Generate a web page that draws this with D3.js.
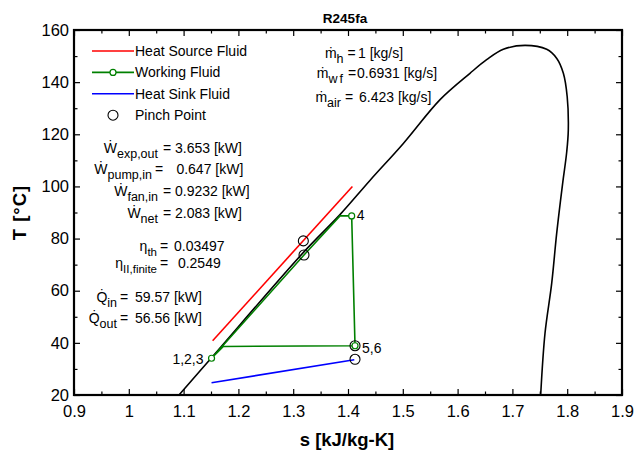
<!DOCTYPE html>
<html>
<head>
<meta charset="utf-8">
<script src="https://cdn.jsdelivr.net/npm/d3@7"></script>
<style>
body { margin: 0; background: #fff; }
text { font-family: Arial, "Liberation Sans", sans-serif; fill: #000; }
</style>
</head>
<body>
<div id="chart"></div>
<script>
// axis ticks
var xTicks = [0.9, 1, 1.1, 1.2, 1.3, 1.4, 1.5, 1.6, 1.7, 1.8, 1.9];
var yTicks = [20, 40, 60, 80, 100, 120, 140, 160];
var xMinor = [0.95, 1.05, 1.15, 1.25, 1.35, 1.45, 1.55, 1.65, 1.75, 1.85];
var yMinor = [30, 50, 70, 90, 110, 130, 150];

// saturation dome of R245fa
var domeS = [1.0916, 1.151, 1.32, 1.3854, 1.44, 1.501, 1.568, 1.6226, 1.653, 1.6834, 1.723, 1.7626, 1.781, 1.793, 1.800, 1.802, 1.799, 1.7917, 1.7808, 1.7717, 1.7595, 1.7516];
var domeT = [20, 34.3, 75, 89.2, 102.3, 116.5, 133.3, 143.4, 148.6, 152.6, 154.1, 152.6, 149.1, 143.4, 134.4, 121.6, 113, 101.2, 82, 62.8, 43.7, 20];

// heat source / working fluid / heat sink
var sourceS = [1.153, 1.408];
var sourceT = [40.8, 100];
var cycleS = [1.151, 1.3197, 1.3854, 1.4067, 1.4128, 1.1725, 1.151];
var cycleT = [34.1, 73.7, 88.7, 88.7, 38.9, 38.6, 34.1];
var sinkS = [1.151, 1.4115];
var sinkT = [24.7, 33.5];

// state markers on the working fluid
var stateNames = ["1,2,3", "4", "5,6"];
var stateS = [1.151, 1.4067, 1.4128];
var stateT = [34.1, 88.7, 38.9];

// pinch points
var pinchS = [1.3185, 1.3197, 1.4128, 1.4128];
var pinchT = [79.1, 73.7, 38.9, 33.7];

var legendNames = ["Heat Source Fluid", "Working Fluid", "Heat Sink Fluid", "Pinch Point"];

// results text
var workSym = ["Ẇ", "Ẇ", "Ẇ", "Ẇ"];
var workSub = ["exp,out", "pump,in", "fan,in", "net"];
var workVal = ["3.653 [kW]", " 0.647 [kW]", "0.9232 [kW]", "2.083 [kW]"];
var etaSym = ["η", "η"];
var etaSub = ["th", "II,finite"];
var etaVal = ["0.03497", " 0.2549"];
var heatSym = ["Q̇", "Q̇"];
var heatSub = ["in", "out"];
var heatVal = ["59.57 [kW]", "56.56 [kW]"];
var massSym = ["ṁ", "ṁ", "ṁ"];
var massSub = ["h", "wf", "air"];
var massVal = ["1 [kg/s]", "0.6931 [kg/s]", "6.423 [kg/s]"];

var width = 637, height = 453,
margin = {top: 30, right: 15, bottom: 58, left: 74},
plotW = width - margin.left - margin.right,
plotH = height - margin.top - margin.bottom;

var x = d3.scaleLinear().domain([0.9, 1.9]).range([0, plotW]);
var y = d3.scaleLinear().domain([20, 160]).range([plotH, 0]);

var svg = d3.select("#chart").append("svg")
.attr("width", width)
.attr("height", height);

var clip = svg.append("defs").append("clipPath").attr("id", "clip");
clip.append("rect").attr("width", plotW).attr("height", plotH);

var g = svg.append("g").attr("transform", "translate(" + margin.left + "," + margin.top + ")");

// axes, ticks pointing inward on all four sides
var fmt = function(d){ return String(d); };
g.append("g").attr("transform", "translate(0," + plotH + ")")
.call(d3.axisBottom(x).tickValues(xTicks).tickSize(-6).tickPadding(10.5).tickFormat(fmt));
g.append("g").attr("transform", "translate(0," + plotH + ")")
.call(d3.axisBottom(x).tickValues(xMinor).tickSize(-3.5).tickFormat(""));
g.append("g")
.call(d3.axisTop(x).tickValues(xTicks).tickSize(-6).tickFormat(""));
g.append("g")
.call(d3.axisTop(x).tickValues(xMinor).tickSize(-3.5).tickFormat(""));
g.append("g")
.call(d3.axisLeft(y).tickValues(yTicks).tickSize(-6).tickPadding(5).tickFormat(fmt));
g.append("g")
.call(d3.axisLeft(y).tickValues(yMinor).tickSize(-3.5).tickFormat(""));
g.append("g").attr("transform", "translate(" + plotW + ",0)")
.call(d3.axisRight(y).tickValues(yTicks).tickSize(-6).tickFormat(""));
g.append("g").attr("transform", "translate(" + plotW + ",0)")
.call(d3.axisRight(y).tickValues(yMinor).tickSize(-3.5).tickFormat(""));

g.selectAll(".domain").remove();
g.selectAll(".tick line").attr("stroke", "#000").attr("stroke-width", 1.2);
g.selectAll(".tick text").style("font-size", "16.5px").style("font-family", "Arial, 'Liberation Sans', sans-serif");

g.append("rect")
.attr("width", plotW)
.attr("height", plotH)
.attr("fill", "none")
.attr("stroke", "#000")
.attr("stroke-width", 2.2);

// data lines
var line = d3.line()
.x(function(d){ return x(d[0]); })
.y(function(d){ return y(d[1]); });

var plot = g.append("g").attr("clip-path", "url(#clip)");

plot.append("path")
.datum(d3.zip(domeS, domeT))
.attr("d", line.curve(d3.curveCatmullRom.alpha(0.5)))
.attr("fill", "none")
.attr("stroke", "#000")
.attr("stroke-width", 1.6);

line.curve(d3.curveLinear);

plot.append("path")
.datum(d3.zip(sourceS, sourceT))
.attr("d", line)
.attr("fill", "none")
.attr("stroke", "#ff0000")
.attr("stroke-width", 1.6);

plot.append("path")
.datum(d3.zip(sinkS, sinkT))
.attr("d", line)
.attr("fill", "none")
.attr("stroke", "#0000ff")
.attr("stroke-width", 1.6);

plot.append("path")
.datum(d3.zip(cycleS, cycleT))
.attr("d", line)
.attr("fill", "none")
.attr("stroke", "#008000")
.attr("stroke-width", 1.6);

// pinch circles
plot.selectAll(".pinch")
.data(d3.zip(pinchS, pinchT))
.enter()
.append("circle")
.attr("class", "pinch")
.attr("cx", function(d){ return x(d[0]); })
.attr("cy", function(d){ return y(d[1]); })
.attr("r", 5)
.attr("fill", "none")
.attr("stroke", "#000")
.attr("stroke-width", 1.1);

// state markers
plot.selectAll(".state")
.data(d3.zip(stateS, stateT))
.enter()
.append("circle")
.attr("class", "state")
.attr("cx", function(d){ return x(d[0]); })
.attr("cy", function(d){ return y(d[1]); })
.attr("r", 3)
.attr("fill", "#fff")
.attr("stroke", "#008000")
.attr("stroke-width", 1.2);

var labelOffset = [[-8, 6, "end"], [5, 4.5, "start"], [7, 7, "start"]];
g.selectAll(".state-label")
.data(stateNames)
.enter()
.append("text")
.attr("class", "state-label")
.attr("x", function(d, i){ return x(stateS[i]) + labelOffset[i][0]; })
.attr("y", function(d, i){ return y(stateT[i]) + labelOffset[i][1]; })
.attr("text-anchor", function(d, i){ return labelOffset[i][2]; })
.style("font-size", "14px")
.text(function(d){ return d; });

// legend
var legend = svg.append("g").attr("class", "legend");
var legendColors = ["#ff0000", "#008000", "#0000ff", null];
legendNames.forEach(function(name, i) {
  var ly = 51 + i * 21.4;
  if (legendColors[i]) {
    legend.append("line")
    .attr("x1", 92).attr("x2", 134)
    .attr("y1", ly).attr("y2", ly)
    .attr("stroke", legendColors[i])
    .attr("stroke-width", 1.6);
  }
  if (i === 1) {
    legend.append("circle").attr("cx", 113).attr("cy", ly).attr("r", 3)
    .attr("fill", "#fff").attr("stroke", "#008000").attr("stroke-width", 1.2);
  }
  if (i === 3) {
    legend.append("circle").attr("cx", 113).attr("cy", ly).attr("r", 5)
    .attr("fill", "none").attr("stroke", "#000").attr("stroke-width", 1.1);
  }
  legend.append("text")
  .attr("x", 135)
  .attr("y", ly + 5)
  .style("font-size", "14px")
  .text(name);
});

// equation-style annotations: symbol+subscript right aligned before "="
function equation(sym, sub, val, row, subSize, spacing) {
  var t = svg.append("text")
  .attr("x", row.eqX - row.gap)
  .attr("y", row.y)
  .attr("text-anchor", "end")
  .style("font-size", "14px");
  t.append("tspan").text(sym);
  t.append("tspan")
  .attr("dy", 5)
  .style("font-size", subSize)
  .style("letter-spacing", spacing || null)
  .text(sub);
  svg.append("text").attr("x", row.eqX).attr("y", row.y).style("font-size", "14px").text("=");
  svg.append("text").attr("x", row.valX).attr("y", row.y).style("font-size", "14px").style("white-space", "pre").text(val);
}

var workRows = [{eqX: 163, valX: 175, y: 152.5, gap: 5}, {eqX: 155, valX: 172.5, y: 173.5, gap: 3}, {eqX: 163, valX: 175, y: 196, gap: 5}, {eqX: 163, valX: 175, y: 218, gap: 5}];
workSym.forEach(function(s, i){ equation(s, workSub[i], workVal[i], workRows[i], "12.5px"); });

var etaRows = [{eqX: 160, valX: 174, y: 250.5, gap: 3}, {eqX: 160, valX: 174, y: 268, gap: 3}];
etaSym.forEach(function(s, i){ equation(s, etaSub[i], etaVal[i], etaRows[i], "11.5px"); });

var heatRows = [{eqX: 120, valX: 135, y: 301.5, gap: 3}, {eqX: 120, valX: 135, y: 322.5, gap: 3}];
heatSym.forEach(function(s, i){ equation(s, heatSub[i], heatVal[i], heatRows[i], "12.5px"); });

var massRows = [{eqX: 347.5, valX: 358, y: 58, gap: 4}, {eqX: 348, valX: 357, y: 78, gap: 3}, {eqX: 345, valX: 359, y: 101.5, gap: 4}];
massSym.forEach(function(s, i){ equation(s, massSub[i], massVal[i], massRows[i], "12.5px", i === 1 ? "2px" : null); });

// titles
svg.append("text")
.attr("x", 345)
.attr("y", 22.5)
.attr("text-anchor", "middle")
.style("font-size", "13.5px")
.style("font-weight", "bold")
.text("R245fa");

svg.append("text")
.attr("x", margin.left + x(1.4) - 1)
.attr("y", 446)
.attr("text-anchor", "middle")
.style("font-size", "18.5px")
.style("font-weight", "bold")
.text("s [kJ/kg-K]");

svg.append("text")
.attr("transform", "translate(26," + (margin.top + y(90)) + ") rotate(-90)")
.attr("text-anchor", "middle")
.style("font-size", "18.5px")
.style("font-weight", "bold")
.style("letter-spacing", "1px")
.text("T [°C]");
</script>
</body>
</html>
